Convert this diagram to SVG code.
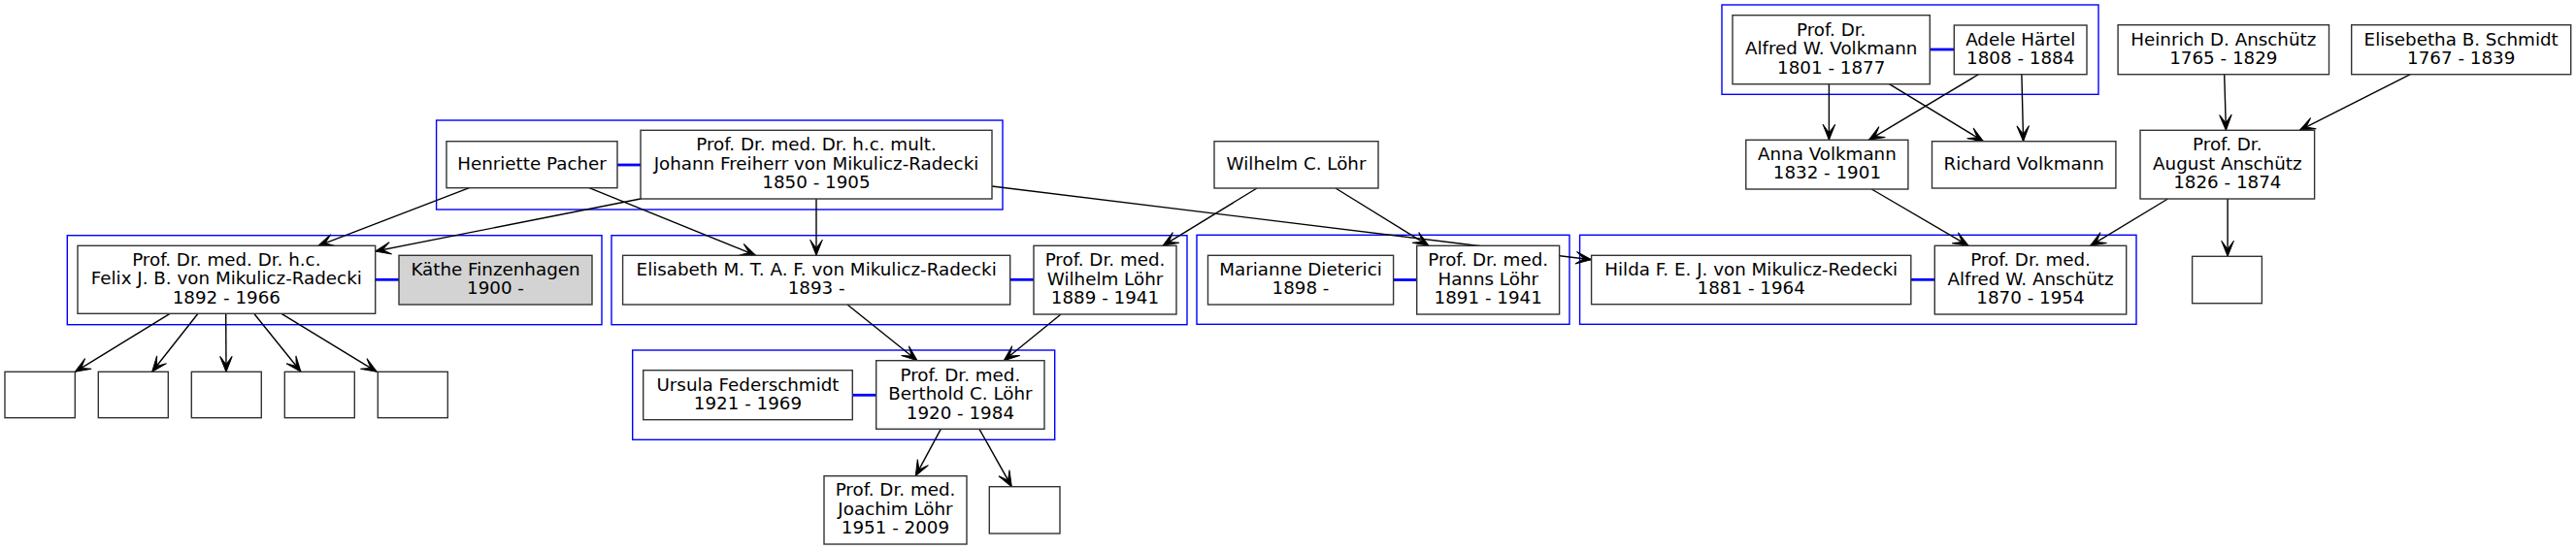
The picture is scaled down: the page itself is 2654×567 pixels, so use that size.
<svg xmlns="http://www.w3.org/2000/svg" width="2654" height="567" viewBox="0 0 2654 567">
<style>
.bg{fill:#fff}
.cl{fill:none;stroke:#0000ff;stroke-width:1.4}
.n rect{fill:#fff;stroke:#333;stroke-width:1.4}
.n rect.g{fill:#d3d3d3}
.n text{font-family:"DejaVu Sans",sans-serif;font-size:18.3px;fill:#000;text-anchor:middle}
.e line{stroke:#000;stroke-width:1.4;marker-end:url(#vee)}
.m line{stroke:#0000ff;stroke-width:2.8}
</style>
<defs>
<marker id="vee" markerUnits="userSpaceOnUse" markerWidth="20" markerHeight="16" viewBox="-17 -8 18 16" refX="0" refY="0" orient="auto">
<path d="M0,0 L-16,-6.3 L-7.5,0 L-16,6.3 Z" fill="#000" stroke="#000" stroke-width="1"/>
</marker>
</defs>
<rect class="bg" x="0" y="0" width="2654" height="567"/>
<g id="clusters">
<rect class="cl" x="1774" y="5" width="388" height="92.3"/>
<rect class="cl" x="449.6" y="124" width="583.4" height="92"/>
<rect class="cl" x="69.3" y="242.7" width="550.7" height="92"/>
<rect class="cl" x="630" y="242.7" width="593" height="92"/>
<rect class="cl" x="1233" y="242.3" width="384" height="92"/>
<rect class="cl" x="1627.6" y="242.3" width="573.4" height="92"/>
<rect class="cl" x="651.7" y="361" width="435" height="92.3"/>
</g>
<g id="marriages" class="m">
<line x1="1988.3" y1="51" x2="2013.3" y2="51"/>
<line x1="636" y1="170" x2="660" y2="170"/>
<line x1="386.7" y1="288.3" x2="411" y2="288.3"/>
<line x1="1040.7" y1="288.3" x2="1065" y2="288.3"/>
<line x1="1435.6" y1="288.5" x2="1459.7" y2="288.5"/>
<line x1="1968.8" y1="288.3" x2="1993.3" y2="288.3"/>
<line x1="878.3" y1="407.3" x2="902.7" y2="407.3"/>
</g>
<g id="connectors" class="e">
<line x1="483.5" y1="193.7" x2="328" y2="253.3"/>
<line x1="661" y1="204.7" x2="386.7" y2="259"/>
<line x1="607" y1="193.7" x2="778.7" y2="263.3"/>
<line x1="841" y1="205" x2="841" y2="263.3"/>
<line x1="1022" y1="192" x2="1639.6" y2="267.7"/>
<line x1="1295" y1="194" x2="1198" y2="253.3"/>
<line x1="1376" y1="194" x2="1472" y2="253.3"/>
<line x1="873" y1="314" x2="945" y2="371.7"/>
<line x1="1093" y1="324" x2="1034.3" y2="371.7"/>
<line x1="969.3" y1="442.3" x2="943.3" y2="490.7"/>
<line x1="1009" y1="442.3" x2="1042.3" y2="501.7"/>
<line x1="175" y1="323.3" x2="77.3" y2="383.3"/>
<line x1="204" y1="323.3" x2="156.7" y2="383.3"/>
<line x1="232.7" y1="323.3" x2="233" y2="383.3"/>
<line x1="261.7" y1="323.3" x2="310" y2="383.3"/>
<line x1="290" y1="323.3" x2="388.3" y2="383.3"/>
<line x1="1884.4" y1="86.7" x2="1884.4" y2="144.3"/>
<line x1="1946.5" y1="86.7" x2="2043.5" y2="145.7"/>
<line x1="2038.4" y1="76.7" x2="1925.4" y2="144.3"/>
<line x1="2082.9" y1="76.7" x2="2084.6" y2="145.7"/>
<line x1="2291.7" y1="76.7" x2="2293.4" y2="134.3"/>
<line x1="2483.3" y1="76.7" x2="2369.2" y2="134.3"/>
<line x1="1928.3" y1="195" x2="2028.1" y2="253.3"/>
<line x1="2233.5" y1="205" x2="2153.6" y2="253.3"/>
<line x1="2295.1" y1="205" x2="2295.1" y2="264.3"/>
</g>
<g id="n_volkmann" class="n"><rect x="1785" y="15.7" width="203.3" height="71"/><text x="1886.7" y="36.7">Prof. Dr.</text><text x="1886.7" y="56.2">Alfred W. Volkmann</text><text x="1886.7" y="75.7">1801 - 1877</text></g>
<g id="n_adele" class="n"><rect x="2013.3" y="26" width="136.7" height="50.7"/><text x="2081.7" y="46.6">Adele Härtel</text><text x="2081.7" y="66.1">1808 - 1884</text></g>
<g id="n_heinrich" class="n"><rect x="2182.1" y="25.7" width="217.4" height="51"/><text x="2290.8" y="46.5">Heinrich D. Anschütz</text><text x="2290.8" y="66">1765 - 1829</text></g>
<g id="n_elisebetha" class="n"><rect x="2422.7" y="25.7" width="226" height="51"/><text x="2535.7" y="46.5">Elisebetha B. Schmidt</text><text x="2535.7" y="66">1767 - 1839</text></g>
<g id="n_anna" class="n"><rect x="1798.8" y="144.3" width="167.1" height="50.7"/><text x="1882.4" y="164.9">Anna Volkmann</text><text x="1882.4" y="184.4">1832 - 1901</text></g>
<g id="n_richard" class="n"><rect x="1990.5" y="145.7" width="189.4" height="48.3"/><text x="2085.2" y="174.9">Richard Volkmann</text></g>
<g id="n_august" class="n"><rect x="2205" y="134.3" width="179.6" height="70.7"/><text x="2294.8" y="155.2">Prof. Dr.</text><text x="2294.8" y="174.7">August Anschütz</text><text x="2294.8" y="194.2">1826 - 1874</text></g>
<g id="n_henriette" class="n"><rect x="460" y="145.7" width="176" height="48"/><text x="548" y="174.7">Henriette Pacher</text></g>
<g id="n_johann" class="n"><rect x="660" y="134.3" width="362" height="70.7"/><text x="841" y="155.2">Prof. Dr. med. Dr. h.c. mult.</text><text x="841" y="174.7">Johann Freiherr von Mikulicz-Radecki</text><text x="841" y="194.2">1850 - 1905</text></g>
<g id="n_wilhelm_c" class="n"><rect x="1251" y="145.7" width="169" height="48.3"/><text x="1335.5" y="174.9">Wilhelm C. Löhr</text></g>
<g id="n_felix" class="n"><rect x="80" y="253.3" width="306.7" height="70"/><text x="233.3" y="273.8">Prof. Dr. med. Dr. h.c.</text><text x="233.3" y="293.3">Felix J. B. von Mikulicz-Radecki</text><text x="233.3" y="312.8">1892 - 1966</text></g>
<g id="n_kaethe" class="n"><rect class="g" x="411" y="263.3" width="199" height="50.7"/><text x="510.5" y="283.9">Käthe Finzenhagen</text><text x="510.5" y="303.4">1900 -</text></g>
<g id="n_elisabeth" class="n"><rect x="641.6" y="263.3" width="399.1" height="50.7"/><text x="841.2" y="283.9">Elisabeth M. T. A. F. von Mikulicz-Radecki</text><text x="841.2" y="303.4">1893 -</text></g>
<g id="n_wilhelm" class="n"><rect x="1065" y="253.3" width="147" height="70.7"/><text x="1138.5" y="274.2">Prof. Dr. med.</text><text x="1138.5" y="293.7">Wilhelm Löhr</text><text x="1138.5" y="313.2">1889 - 1941</text></g>
<g id="n_marianne" class="n"><rect x="1244.5" y="263.3" width="191.1" height="50.7"/><text x="1340" y="283.9">Marianne Dieterici</text><text x="1340" y="303.4">1898 -</text></g>
<g id="n_hanns" class="n"><rect x="1459.7" y="253.3" width="146.9" height="70.7"/><text x="1533.2" y="274.2">Prof. Dr. med.</text><text x="1533.2" y="293.7">Hanns Löhr</text><text x="1533.2" y="313.2">1891 - 1941</text></g>
<g id="n_hilda" class="n"><rect x="1639.6" y="263.3" width="329.2" height="50.4"/><text x="1804.2" y="283.8">Hilda F. E. J. von Mikulicz-Redecki</text><text x="1804.2" y="303.3">1881 - 1964</text></g>
<g id="n_alfred_a" class="n"><rect x="1993.3" y="253.3" width="197.4" height="70.7"/><text x="2092" y="274.2">Prof. Dr. med.</text><text x="2092" y="293.7">Alfred W. Anschütz</text><text x="2092" y="313.2">1870 - 1954</text></g>
<g id="n_august_child" class="n"><rect x="2258.6" y="264.3" width="71.8" height="48.4"/></g>
<g id="n_felix_c1" class="n"><rect x="5" y="383.3" width="72.3" height="47.4"/></g>
<g id="n_felix_c2" class="n"><rect x="101.3" y="383.3" width="72" height="47.4"/></g>
<g id="n_felix_c3" class="n"><rect x="197.3" y="383.3" width="72" height="47.4"/></g>
<g id="n_felix_c4" class="n"><rect x="293.3" y="383.3" width="72" height="47.4"/></g>
<g id="n_felix_c5" class="n"><rect x="389.3" y="383.3" width="72" height="47.4"/></g>
<g id="n_ursula" class="n"><rect x="662.7" y="381.7" width="215.6" height="51"/><text x="770.5" y="402.5">Ursula Federschmidt</text><text x="770.5" y="422">1921 - 1969</text></g>
<g id="n_berthold" class="n"><rect x="902.7" y="371.7" width="173.3" height="70.6"/><text x="989.4" y="392.5">Prof. Dr. med.</text><text x="989.4" y="412">Berthold C. Löhr</text><text x="989.4" y="431.5">1920 - 1984</text></g>
<g id="n_joachim" class="n"><rect x="849" y="490.7" width="147" height="70.3"/><text x="922.5" y="511.4">Prof. Dr. med.</text><text x="922.5" y="530.9">Joachim Löhr</text><text x="922.5" y="550.4">1951 - 2009</text></g>
<g id="n_berthold_child" class="n"><rect x="1019.3" y="501.7" width="72.7" height="48.3"/></g>
</svg>
